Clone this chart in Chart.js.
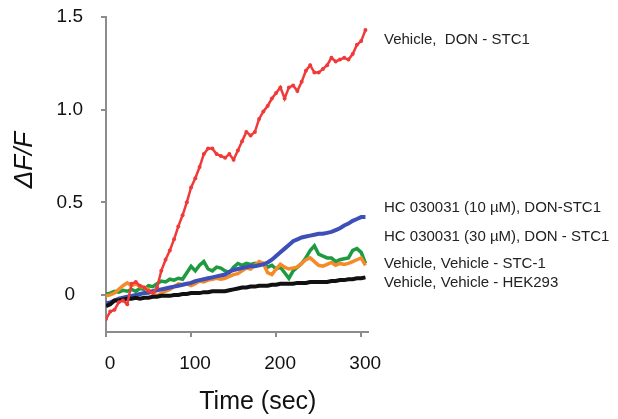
<!DOCTYPE html>
<html>
<head>
<meta charset="utf-8">
<script src="https://cdn.jsdelivr.net/npm/chart.js@4/dist/chart.umd.min.js"></script>
<style>
  html, body { margin: 0; padding: 0; background: #fff; }
  #wrap { width: 618px; height: 419px; }
</style>
</head>
<body>
<div id="wrap"><canvas id="chart"></canvas></div>
<script>
// time points (sec)
const times = [0, 5, 10, 15, 20, 25, 30, 35, 40, 45, 50, 55, 60, 65, 70, 75, 80, 85, 90, 95,
    100, 105, 110, 115, 120, 125, 130, 135, 140, 145, 150, 155, 160, 165, 170, 175, 180, 185, 190, 195,
    200, 205, 210, 215, 220, 225, 230, 235, 240, 245, 250, 255, 260, 265, 270, 275, 280, 285, 290, 295,
    300, 305];

// dF/F traces
const donStc1 = [-0.13, -0.09, -0.08, -0.04, -0.03, -0.05, 0.06, 0.07, 0.05, 0.04, 0.02, 0.01, 0.04, 0.13, 0.19, 0.24, 0.30, 0.37, 0.43, 0.50,
    0.58, 0.63, 0.69, 0.76, 0.79, 0.79, 0.76, 0.75, 0.74, 0.76, 0.73, 0.78, 0.83, 0.88, 0.86, 0.88, 0.95, 0.99, 1.02, 1.06,
    1.09, 1.12, 1.06, 1.12, 1.13, 1.10, 1.15, 1.21, 1.24, 1.20, 1.20, 1.22, 1.24, 1.28, 1.26, 1.27, 1.28, 1.27, 1.30, 1.35,
    1.37, 1.43];
const hc10 = [-0.045, -0.04, -0.03, -0.02, -0.015, -0.01, -0.005, 0.0, 0.005, 0.01, 0.012, 0.02, 0.025, 0.03, 0.035, 0.04, 0.045, 0.05, 0.055, 0.06,
    0.065, 0.075, 0.08, 0.085, 0.09, 0.095, 0.10, 0.105, 0.11, 0.125, 0.135, 0.14, 0.145, 0.15, 0.155, 0.155, 0.16, 0.165, 0.175, 0.19,
    0.21, 0.23, 0.25, 0.27, 0.29, 0.30, 0.31, 0.315, 0.32, 0.325, 0.33, 0.33, 0.335, 0.34, 0.35, 0.36, 0.375, 0.385, 0.40, 0.41,
    0.42, 0.42];
const hc30 = [0.005, 0.01, 0.02, 0.015, 0.025, 0.02, 0.03, 0.02, 0.035, 0.03, 0.05, 0.045, 0.06, 0.075, 0.07, 0.085, 0.08, 0.09, 0.085, 0.12,
    0.155, 0.13, 0.16, 0.18, 0.14, 0.13, 0.15, 0.145, 0.13, 0.12, 0.15, 0.17, 0.16, 0.17, 0.165, 0.17, 0.16, 0.17, 0.15, 0.16,
    0.14, 0.15, 0.12, 0.09, 0.13, 0.15, 0.17, 0.20, 0.24, 0.265, 0.22, 0.21, 0.20, 0.20, 0.18, 0.19, 0.195, 0.20, 0.24, 0.25,
    0.23, 0.17];
const vehStc1 = [-0.005, 0.0, 0.01, 0.03, 0.05, 0.065, 0.05, 0.06, 0.045, 0.04, 0.03, 0.01, -0.005, 0.01, 0.02, 0.03, 0.045, 0.06, 0.055, 0.06,
    0.05, 0.06, 0.075, 0.07, 0.08, 0.085, 0.09, 0.085, 0.09, 0.10, 0.11, 0.115, 0.13, 0.145, 0.14, 0.16, 0.18, 0.17, 0.12, 0.11,
    0.14, 0.165, 0.15, 0.14, 0.145, 0.15, 0.17, 0.19, 0.20, 0.18, 0.16, 0.155, 0.165, 0.175, 0.16, 0.17, 0.165, 0.17, 0.18, 0.19,
    0.20, 0.16];
const vehHek = [-0.06, -0.05, -0.03, -0.03, -0.025, -0.02, -0.02, -0.015, -0.02, -0.015, -0.015, -0.01, -0.01, -0.005, -0.005, -0.005, 0.0, 0.0, 0.005, 0.005,
    0.01, 0.01, 0.01, 0.015, 0.015, 0.02, 0.02, 0.02, 0.02, 0.025, 0.03, 0.035, 0.04, 0.04, 0.045, 0.045, 0.05, 0.05, 0.05, 0.055,
    0.055, 0.06, 0.06, 0.06, 0.06, 0.065, 0.065, 0.065, 0.07, 0.07, 0.07, 0.07, 0.07, 0.075, 0.075, 0.08, 0.08, 0.085, 0.085, 0.09,
    0.09, 0.095];

const seriesNames = ['Vehicle,  DON - STC1', 'HC 030031 (10 µM), DON-STC1', 'HC 030031 (30 µM), DON - STC1',
    'Vehicle, Vehicle - STC-1', 'Vehicle, Vehicle - HEK293'];
const xTicks = [0, 100, 200, 300];
const yTicks = [0, 0.5, 1.0, 1.5];

const toPoints = (vals) => vals.map((v, i) => ({ x: times[i], y: v }));

// labels on the right side of the plot, next to each trace end
const labelY = [40, 208, 237, 264, 283];
const sideLabels = {
    id: 'sideLabels',
    afterDraw(chart) {
        const ctx = chart.ctx;
        ctx.save();
        ctx.font = '15px "Liberation Sans", Arial, sans-serif';
        ctx.fillStyle = '#222';
        ctx.textBaseline = 'middle';
        seriesNames.forEach((name, i) => {
            ctx.fillText(name, 384, labelY[i]);
        });
        ctx.restore();
    }
};

const axisColor = '#8c8c8c';

const ctx = document.getElementById('chart').getContext('2d');
new Chart(ctx, {
    type: 'line',
    data: {
        datasets: [
            { label: seriesNames[0], data: toPoints(donStc1), borderColor: '#f03a3a', backgroundColor: '#f03a3a',
              borderWidth: 2.5, pointRadius: 2, pointBorderWidth: 0 },
            { label: seriesNames[4], data: toPoints(vehHek), borderColor: '#111', borderWidth: 4, pointRadius: 0 },
            { label: seriesNames[1], data: toPoints(hc10), borderColor: '#3d4fb8', borderWidth: 4, pointRadius: 0 },
            { label: seriesNames[3], data: toPoints(vehStc1), borderColor: '#f58a2a', borderWidth: 3.5, pointRadius: 0 },
            { label: seriesNames[2], data: toPoints(hc30), borderColor: '#1e9a40', borderWidth: 3.5, pointRadius: 0 }
        ]
    },
    options: {
        responsive: true,
        maintainAspectRatio: false,
        animation: false,
        layout: { padding: { left: 0, right: 250, top: 17, bottom: 0 } },
        plugins: {
            legend: { display: false },
            tooltip: { enabled: false }
        },
        scales: {
            x: {
                type: 'linear',
                min: 0,
                max: 308,
                afterBuildTicks: (axis) => { axis.ticks = xTicks.map(v => ({ value: v })); },
                afterFit: (axis) => {
                    axis.height = 87;
                    axis.paddingLeft = 0;
                    axis.paddingRight = 0;
                },
                border: { display: true, color: axisColor, width: 2 },
                grid: { drawOnChartArea: false, drawTicks: true, tickLength: 5, color: axisColor, lineWidth: 2 },
                ticks: {
                    color: '#111',
                    font: { family: '"Liberation Sans", Arial, sans-serif', size: 19 },
                    padding: 15,
                    labelOffset: 4,
                    maxRotation: 0
                },
                title: {
                    display: true,
                    text: '      Time (sec)',
                    color: '#111',
                    font: { family: '"Liberation Sans", Arial, sans-serif', size: 25 },
                    padding: { top: 0, bottom: 2 }
                }
            },
            y: {
                min: -0.2,
                max: 1.5,
                afterBuildTicks: (axis) => { axis.ticks = yTicks.map(v => ({ value: v })); },
                afterFit: (axis) => {
                    axis.width = 106;
                    axis.paddingTop = 0;
                    axis.paddingBottom = 0;
                },
                border: { display: true, color: axisColor, width: 2 },
                grid: { drawOnChartArea: false, drawTicks: true, tickLength: 5, color: axisColor, lineWidth: 2 },
                ticks: {
                    color: '#111',
                    font: { family: '"Liberation Sans", Arial, sans-serif', size: 19 },
                    padding: 18,
                    crossAlign: 'center',
                    callback: (v) => v === 0 ? '0' : Number(v).toFixed(1)
                },
                title: {
                    display: true,
                    text: '    ΔF/F',
                    color: '#111',
                    font: { family: '"Liberation Sans", Arial, sans-serif', size: 26, style: 'italic' },
                    padding: { top: 9, bottom: 0 }
                }
            }
        }
    },
    plugins: [sideLabels]
});
</script>
</body>
</html>
